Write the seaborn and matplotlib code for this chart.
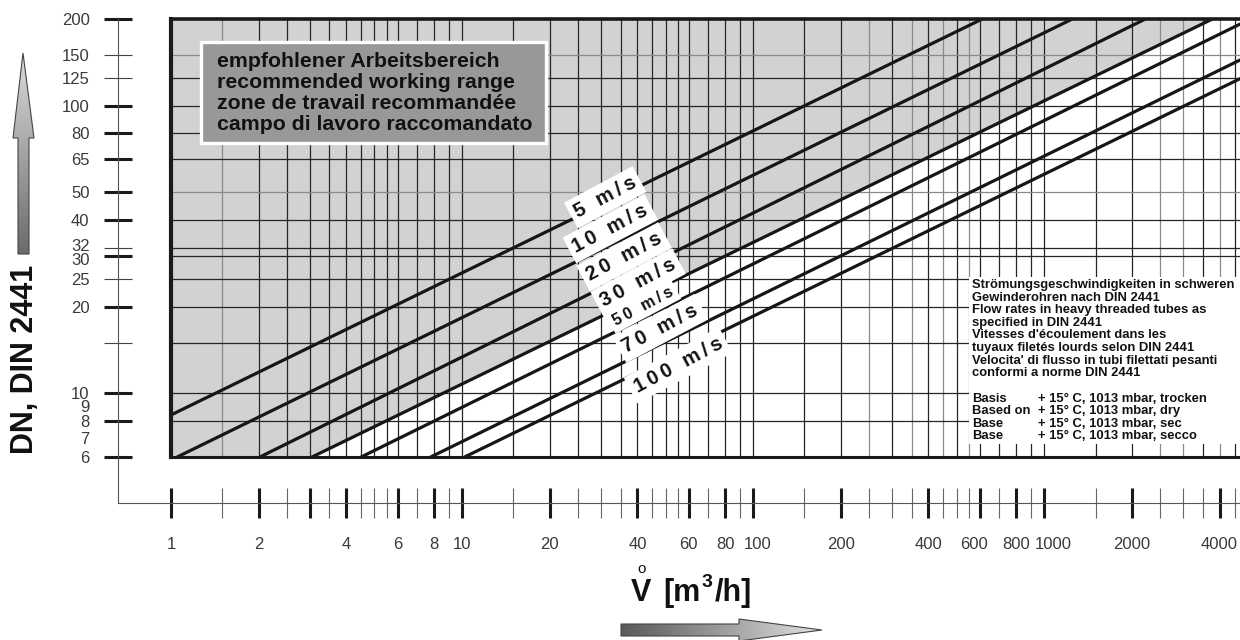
import numpy as np
import matplotlib
matplotlib.use("Agg")
import matplotlib.pyplot as plt
from matplotlib.patches import Polygon, Rectangle
from matplotlib.ticker import FixedLocator, FixedFormatter, NullFormatter
import pandas as pd
import seaborn as sns

# velocity lines, endpoints (flow in m3/h, DN in mm)
velocities = [5, 10, 20, 30, 50, 70, 100]
q_start = [1.0, 1.05, 2.02, 3.05, 4.5, 7.8, 10.2]
dn_start = [8.4, 6, 6, 6, 6, 6, 6]
q_end = [612, 1248, 2224, 3779, 4700, 4700, 4700]
dn_end = [200, 200, 200, 200, 192, 144, 124]
line_labels = ["5 m/s", "10 m/s", "20 m/s", "30 m/s", "50 m/s", "70 m/s", "100 m/s"]

# recommended working range = everything above the 30 m/s line
range_q = [1, 3.05, 3779, 1]
range_dn = [6, 6, 200, 200]

# scales
q_major = [1, 2, 3, 4, 6, 8, 10, 20, 40, 60, 80, 100, 200, 400, 600, 800, 1000, 2000, 4000]
q_major_labels = ["1", "2", "", "4", "6", "8", "10", "20", "40", "60", "80", "",
                  "200", "400", "", "800", "", "2000", "4000"]
q_shifted = [100, 600, 1000]          # labels nudged sideways in the original
q_shifted_dx = [4, -6, 9]
q_minor = [1.5, 2.5, 3.5, 4.5, 5, 5.5, 7, 9, 15, 25, 30, 35, 45, 50, 55, 70, 90,
           150, 250, 300, 350, 450, 500, 550, 700, 900, 1500, 2500, 3000, 3500, 4500]
dn_major = [6, 8, 10, 20, 30, 40, 50, 65, 80, 100, 200]
dn_major_labels = ["6", "8", "10", "20", "", "40", "50", "65", "80", "100", "200"]
dn_minor = [15, 25, 32, 125, 150]
dn_minor_labels = ["", "25", "", "125", "150"]
dn_extra = [7, 9, 30, 32]
dn_extra_dy = [0, 0, -2, 2]

grid_q = [1.5, 2, 2.5, 3, 3.5, 4, 4.5, 5, 5.5, 6, 7, 8, 9, 10, 15, 20, 25, 30, 35, 40, 45,
          50, 55, 60, 70, 80, 90, 100, 150, 200, 250, 300, 350, 400, 450, 500, 550, 600,
          700, 800, 900, 1000, 1500, 2000, 2500, 3000, 3500, 4000, 4500]
grid_q_light = [1.5, 250, 350, 450, 550, 2500, 3000, 4000]
grid_dn = [8, 10, 15, 20, 25, 30, 32, 40, 50, 65, 80, 100, 125, 150]
grid_dn_light = [50, 150]

box_lines = ["empfohlener Arbeitsbereich", "recommended working range",
             "zone de travail recommandée", "campo di lavoro raccomandato"]
info_lines = ["Strömungsgeschwindigkeiten in schweren", "Gewinderohren nach DIN 2441",
              "Flow rates in heavy threaded tubes as", "specified in DIN 2441",
              "Vitesses d'écoulement dans les", "tuyaux filetés lourds selon DIN 2441",
              "Velocita' di flusso in tubi filettati pesanti", "conformi a norme DIN 2441"]
basis_keys = ["Basis", "Based on", "Base", "Base"]
basis_vals = ["+ 15° C, 1013 mbar, trocken", "+ 15° C, 1013 mbar, dry",
              "+ 15° C, 1013 mbar, sec", "+ 15° C, 1013 mbar, secco"]

Q_MIN, Q_MAX = 1, 4700
DN_MIN, DN_MAX = 6, 200

# label anchor points (Q, DN) for the velocity tags
label_pos = [(31.0, 48.0), (32.3, 37.3), (36.0, 29.8), (40.2, 24.2),
             (41.8, 20.1), (48.0, 16.8), (55.2, 12.5)]

sns.set_theme(style="white")
plt.rcParams["font.family"] = ["Liberation Sans", "DejaVu Sans"]

W, H = 1240, 640
fig = plt.figure(figsize=(W / 100, H / 100), dpi=100)
INK = "#111111"
NUM = "#3a3a3a"


def frame(l, t, r, b):
    return [l / W, 1 - b / H, (r - l) / W, (b - t) / H]


L, T, R, B = 171, 19, 1240, 457   # chart box in pixels
SL, SB = 118, 503                 # ruler axes

# rulers (ticks and numbers) sit left of and below the chart box
dec_x = (R - L) / np.log10(Q_MAX / Q_MIN)
dec_y = (B - T) / np.log10(DN_MAX / DN_MIN)
axs = fig.add_axes(frame(SL, T, R, SB))
axs.patch.set_alpha(0)
axs.set_xscale("log")
axs.set_yscale("log")
axs.set_xlim(Q_MIN * 10 ** (-(L - SL) / dec_x), Q_MAX)
axs.set_ylim(DN_MIN * 10 ** (-(SB - B) / dec_y), DN_MAX)
for s in ["top", "right"]:
    axs.spines[s].set_visible(False)
for s in ["left", "bottom"]:
    axs.spines[s].set_color("#555555")
    axs.spines[s].set_linewidth(0.8)
axs.xaxis.set_major_locator(FixedLocator(q_major))
axs.xaxis.set_major_formatter(FixedFormatter(q_major_labels))
axs.xaxis.set_minor_locator(FixedLocator(q_minor))
axs.xaxis.set_minor_formatter(NullFormatter())
axs.yaxis.set_major_locator(FixedLocator(dn_major))
axs.yaxis.set_major_formatter(FixedFormatter(dn_major_labels))
axs.yaxis.set_minor_locator(FixedLocator(dn_minor))
axs.yaxis.set_minor_formatter(FixedFormatter(dn_minor_labels))
axs.tick_params(which="both", bottom=True, left=True, direction="inout",
                labelsize=12, labelcolor=NUM)
axs.tick_params(axis="x", which="major", length=21.6, width=2.2, color="#1a1a1a", pad=13.5)
axs.tick_params(axis="x", which="minor", length=21.6, width=0.8, color="#666666", pad=13.5)
axs.tick_params(axis="y", which="major", length=20, width=2.2, color="#1a1a1a", pad=10.5)
axs.tick_params(axis="y", which="minor", length=20, width=0.8, color="#444444", pad=10.5)
for v, dy in zip(dn_extra, dn_extra_dy):
    axs.annotate(str(v), xy=(0, v), xycoords=axs.get_yaxis_transform(),
                 xytext=(-20.5, dy), textcoords="offset points",
                 ha="right", va="center_baseline", fontsize=12, color=NUM)
for v, dx in zip(q_shifted, q_shifted_dx):
    axs.annotate(str(v), xy=(v, 0), xycoords=axs.get_xaxis_transform(),
                 xytext=(dx * 0.72, -24.3), textcoords="offset points",
                 ha="center", va="top", fontsize=12, color=NUM)

# main chart
ax = fig.add_axes(frame(L, T, R, B))
ax.fill(range_q, range_dn, color="#d1d2d4", lw=0, zorder=0)
for q in grid_q:
    light = q in grid_q_light
    ax.axvline(q, color="#8a8a8a" if light else "#262626", lw=0.9, zorder=1)
for d in grid_dn:
    light = d in grid_dn_light
    ax.axhline(d, color="#8a8a8a" if light else "#262626", lw=0.9, zorder=1)

df = pd.DataFrame({"v": velocities * 2, "Q": q_start + q_end, "DN": dn_start + dn_end})
sns.lineplot(data=df, x="Q", y="DN", units="v", estimator=None, color="#161616",
             lw=2.3, legend=False, ax=ax, zorder=3)
ax.set_xscale("log")
ax.set_yscale("log")
ax.set_xlim(Q_MIN, Q_MAX)
ax.set_ylim(DN_MIN, DN_MAX)
ax.set_xlabel("")
ax.set_ylabel("")
ax.tick_params(which="both", length=0, labelleft=False, labelbottom=False)
ax.xaxis.set_minor_formatter(NullFormatter())
ax.yaxis.set_minor_formatter(NullFormatter())
ax.spines["right"].set_visible(False)
for s, w in [("left", 3.0), ("top", 2.6), ("bottom", 2.2)]:
    ax.spines[s].set_color("#1a1a1a")
    ax.spines[s].set_linewidth(w)
    ax.spines[s].set_zorder(5)

for (qx, dy), lab in zip(label_pos, line_labels):
    size = 11.5 if lab.startswith("50") else 14.5
    ax.text(qx, dy, "\u2009".join(lab), rotation=28, rotation_mode="anchor",
            ha="center", va="center", fontsize=size, fontweight="bold", color=INK,
            zorder=6, bbox=dict(boxstyle="square,pad=0.25", fc="white", ec="none"))

# overlay for annotations, in pixel coordinates
axo = fig.add_axes([0, 0, 1, 1])
axo.set_xlim(0, W)
axo.set_ylim(H, 0)
axo.axis("off")
axo.patch.set_alpha(0)

axo.add_patch(Rectangle((201, 42), 345, 101, fc="#989898", ec="white", lw=2.4, zorder=2))
for i, t in enumerate(box_lines):
    axo.text(217, 67 + 21 * i, t, fontsize=15.3, fontweight="bold", color=INK,
             ha="left", va="baseline", zorder=3)

axo.add_patch(Rectangle((969, 277), W - 969, 167, fc="white", ec="none", zorder=2))
for i, t in enumerate(info_lines):
    axo.text(972, 288 + 12.6 * i, t, fontsize=9.4, fontweight="bold", color=INK,
             ha="left", va="baseline", zorder=3)
for i, (k, v) in enumerate(zip(basis_keys, basis_vals)):
    axo.text(972, 402 + 12.4 * i, k, fontsize=9.4, fontweight="bold", color=INK,
             ha="left", va="baseline", zorder=3)
    axo.text(1038, 402 + 12.4 * i, v, fontsize=9.4, fontweight="bold", color=INK,
             ha="left", va="baseline", zorder=3)

# axis titles
axo.text(25, 359, "DN, DIN 2441", rotation=90, fontsize=22, fontweight="bold",
         color=INK, ha="center", va="center")
axo.text(631, 601, "V", fontsize=22, fontweight="bold", color=INK, ha="left", va="baseline")
axo.text(642, 569, "o", fontsize=11, color=INK, ha="center", va="center")
axo.text(663, 601, "[m", fontsize=22, fontweight="bold", color=INK, ha="left", va="baseline")
axo.text(702, 587, "3", fontsize=14, fontweight="bold", color=INK, ha="left", va="baseline")
axo.text(715, 601, "/h]", fontsize=22, fontweight="bold", color=INK, ha="left", va="baseline")

# gradient arrows
up = Polygon([(18, 254), (29, 254), (29, 138), (34, 138), (23, 53), (13, 138), (18, 138)],
             closed=True, fc="none", ec="#444444", lw=0.8, zorder=4)
axo.add_patch(up)
im = axo.imshow(np.linspace(0.86, 0.42, 200)[:, None], cmap="gray", vmin=0, vmax=1,
                extent=(13, 34, 254, 53), origin="upper", aspect="auto", zorder=3)
im.set_clip_path(up)

right = Polygon([(621, 624), (739, 624), (739, 619), (822, 630), (739, 641), (739, 636),
                 (621, 636)], closed=True, fc="none", ec="#444444", lw=0.8, zorder=4)
axo.add_patch(right)
im2 = axo.imshow(np.linspace(0.35, 0.88, 200)[None, :], cmap="gray", vmin=0, vmax=1,
                 extent=(621, 822, 641, 619), origin="upper", aspect="auto", zorder=3)
im2.set_clip_path(right)
axo.set_xlim(0, W)
axo.set_ylim(H, 0)

fig.savefig("out.png", dpi=100)
